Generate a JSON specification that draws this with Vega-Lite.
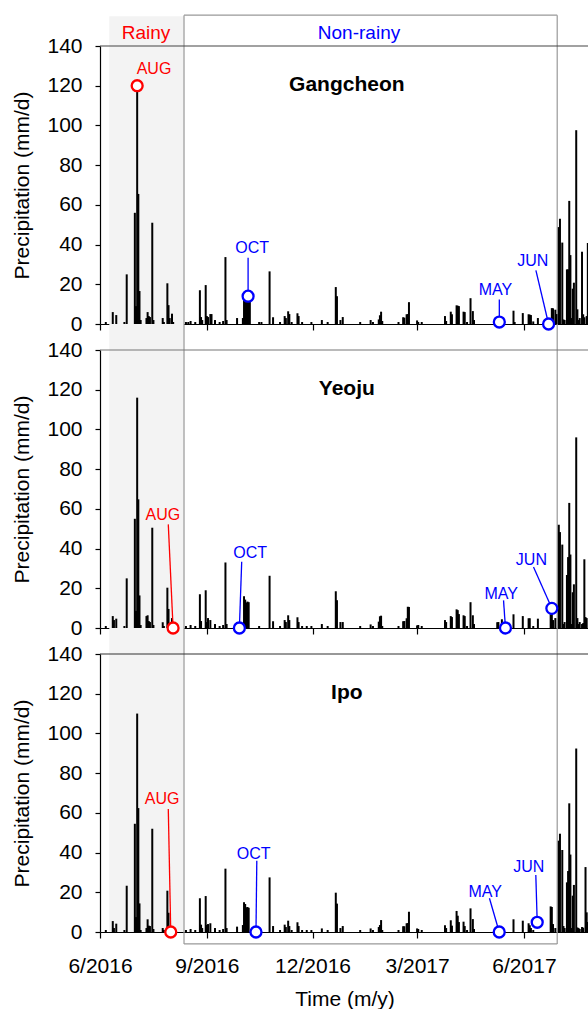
{
 "$schema": "https://vega.github.io/schema/vega-lite/v6.json",
 "padding": {"left": 11, "top": 14, "right": 0, "bottom": 0},
 "bounds": "flush",
 "spacing": 26,
 "config": {
  "font": "Liberation Sans",
  "view": {"stroke": null},
  "scale": {"continuousPadding": 0},
  "axis": {"labelFont": "Liberation Sans", "titleFont": "Liberation Sans", "labelFontSize": 21, "titleFontSize": 21, "titleFontWeight": "normal", "labelColor": "#000", "titleColor": "#000", "domainColor": "#000", "tickColor": "#000", "domainWidth": 1.2, "tickWidth": 1.2, "grid": false, "zindex": 1, "labelOverlap": false}
 },
 "datasets": {
  "periods": [
   {"period": "Rainy", "start": "2016-06-09T00:00:00Z", "end": "2016-08-12T08:00:00Z", "labelDate": "2016-07-10T14:00:00Z"},
   {"period": "Non-rainy", "start": "2016-08-12T08:00:00Z", "end": "2017-06-29T15:00:00Z", "labelDate": "2017-01-10T00:00:00Z"}
  ],
  "notes": [
   {"site": "Gangcheon", "label": "AUG", "period": "Rainy", "ldate": "2016-07-17T12:00:00Z", "ly": 125.7, "sdate": "2016-07-03T00:00:00Z", "sy": 120, "cdate": "2016-07-03T00:00:00Z", "cy": 120},
   {"site": "Gangcheon", "label": "OCT", "period": "Non-rainy", "ldate": "2016-10-10T02:00:00Z", "ly": 35.6, "sdate": "2016-10-06T12:00:00Z", "sy": 33.4, "cdate": "2016-10-06T12:00:00Z", "cy": 14},
   {"site": "Gangcheon", "label": "MAY", "period": "Non-rainy", "ldate": "2017-05-07T10:00:00Z", "ly": 14.6, "sdate": "2017-05-10T19:00:00Z", "sy": 12.4, "cdate": "2017-05-10T19:00:00Z", "cy": 1},
   {"site": "Gangcheon", "label": "JUN", "period": "Non-rainy", "ldate": "2017-06-08T14:00:00Z", "ly": 29.2, "sdate": "2017-06-11T07:00:00Z", "sy": 27, "cdate": "2017-06-22T05:00:00Z", "cy": 0},
   {"site": "Yeoju", "label": "AUG", "period": "Rainy", "ldate": "2016-07-25T02:00:00Z", "ly": 54.2, "sdate": "2016-07-29T19:00:00Z", "sy": 52.2, "cdate": "2016-08-02T22:00:00Z", "cy": 0},
   {"site": "Yeoju", "label": "OCT", "period": "Non-rainy", "ldate": "2016-10-08T07:00:00Z", "ly": 35.4, "sdate": "2016-10-01T00:00:00Z", "sy": 33.4, "cdate": "2016-09-29T00:00:00Z", "cy": 0},
   {"site": "Yeoju", "label": "MAY", "period": "Non-rainy", "ldate": "2017-05-12T10:00:00Z", "ly": 14.4, "sdate": "2017-05-14T10:00:00Z", "sy": 13.9, "cdate": "2017-05-16T02:00:00Z", "cy": 0},
   {"site": "Yeoju", "label": "JUN", "period": "Non-rainy", "ldate": "2017-06-07T10:00:00Z", "ly": 31.6, "sdate": "2017-06-09T05:00:00Z", "sy": 30.7, "cdate": "2017-06-25T00:00:00Z", "cy": 9.9},
   {"site": "Ipo", "label": "AUG", "period": "Rainy", "ldate": "2016-07-24T12:00:00Z", "ly": 64.4, "sdate": "2016-07-29T19:00:00Z", "sy": 61.9, "cdate": "2016-07-31T22:00:00Z", "cy": 0},
   {"site": "Ipo", "label": "OCT", "period": "Non-rainy", "ldate": "2016-10-11T07:00:00Z", "ly": 36.8, "sdate": "2016-10-14T00:00:00Z", "sy": 35.9, "cdate": "2016-10-13T07:00:00Z", "cy": 0},
   {"site": "Ipo", "label": "MAY", "period": "Non-rainy", "ldate": "2017-04-28T14:00:00Z", "ly": 17.5, "sdate": "2017-05-02T07:00:00Z", "sy": 17, "cdate": "2017-05-10T17:00:00Z", "cy": 0},
   {"site": "Ipo", "label": "JUN", "period": "Non-rainy", "ldate": "2017-06-05T02:00:00Z", "ly": 30, "sdate": "2017-06-11T05:00:00Z", "sy": 28.7, "cdate": "2017-06-12T10:00:00Z", "cy": 4.9}
  ],
  "rain": [
   {"date": "2016-06-06", "Gangcheon": 1, "Yeoju": 1, "Ipo": 1},
   {"date": "2016-06-12", "Gangcheon": 6, "Yeoju": 6, "Ipo": 5.5},
   {"date": "2016-06-13", "Gangcheon": 0, "Yeoju": 4, "Ipo": 2},
   {"date": "2016-06-15", "Gangcheon": 4.5, "Yeoju": 4.7, "Ipo": 4.2},
   {"date": "2016-06-22", "Gangcheon": 1, "Yeoju": 1, "Ipo": 1},
   {"date": "2016-06-24", "Gangcheon": 25, "Yeoju": 25, "Ipo": 23.3},
   {"date": "2016-07-01", "Gangcheon": 56, "Yeoju": 55, "Ipo": 54.5},
   {"date": "2016-07-02", "Gangcheon": 9, "Yeoju": 8.6, "Ipo": 7.5},
   {"date": "2016-07-03", "Gangcheon": 119, "Yeoju": 116, "Ipo": 110},
   {"date": "2016-07-04", "Gangcheon": 65.5, "Yeoju": 64.8, "Ipo": 62.4},
   {"date": "2016-07-05", "Gangcheon": 16.6, "Yeoju": 16.4, "Ipo": 14.4},
   {"date": "2016-07-06", "Gangcheon": 2, "Yeoju": 1.5, "Ipo": 1},
   {"date": "2016-07-11", "Gangcheon": 3, "Yeoju": 6, "Ipo": 2},
   {"date": "2016-07-12", "Gangcheon": 6, "Yeoju": 6.4, "Ipo": 6.4},
   {"date": "2016-07-13", "Gangcheon": 4, "Yeoju": 3.5, "Ipo": 3.2},
   {"date": "2016-07-14", "Gangcheon": 3.5, "Yeoju": 3, "Ipo": 3},
   {"date": "2016-07-16", "Gangcheon": 51, "Yeoju": 50.5, "Ipo": 52},
   {"date": "2016-07-17", "Gangcheon": 2, "Yeoju": 1.5, "Ipo": 1.5},
   {"date": "2016-07-25", "Gangcheon": 3, "Yeoju": 2.9, "Ipo": 2},
   {"date": "2016-07-26", "Gangcheon": 1, "Yeoju": 1, "Ipo": 1},
   {"date": "2016-07-29", "Gangcheon": 20.5, "Yeoju": 20.3, "Ipo": 20.8},
   {"date": "2016-07-30", "Gangcheon": 9.5, "Yeoju": 9.6, "Ipo": 9.7},
   {"date": "2016-07-31", "Gangcheon": 3, "Yeoju": 2, "Ipo": 2},
   {"date": "2016-08-02", "Gangcheon": 5.2, "Yeoju": 5, "Ipo": 0},
   {"date": "2016-08-03", "Gangcheon": 1, "Yeoju": 0, "Ipo": 0},
   {"date": "2016-08-14", "Gangcheon": 1, "Yeoju": 1, "Ipo": 1},
   {"date": "2016-08-16", "Gangcheon": 1, "Yeoju": 0, "Ipo": 0},
   {"date": "2016-08-18", "Gangcheon": 1.5, "Yeoju": 1.5, "Ipo": 1.5},
   {"date": "2016-08-22", "Gangcheon": 1, "Yeoju": 1, "Ipo": 1},
   {"date": "2016-08-26", "Gangcheon": 17, "Yeoju": 17, "Ipo": 17},
   {"date": "2016-08-27", "Gangcheon": 3.5, "Yeoju": 3.5, "Ipo": 3.7},
   {"date": "2016-08-28", "Gangcheon": 2, "Yeoju": 0, "Ipo": 2},
   {"date": "2016-08-31", "Gangcheon": 19.6, "Yeoju": 19, "Ipo": 18.1},
   {"date": "2016-09-01", "Gangcheon": 4, "Yeoju": 3, "Ipo": 3.5},
   {"date": "2016-09-02", "Gangcheon": 3.5, "Yeoju": 5, "Ipo": 4},
   {"date": "2016-09-04", "Gangcheon": 5, "Yeoju": 4, "Ipo": 4.4},
   {"date": "2016-09-05", "Gangcheon": 5, "Yeoju": 0, "Ipo": 0},
   {"date": "2016-09-08", "Gangcheon": 2, "Yeoju": 2, "Ipo": 2},
   {"date": "2016-09-12", "Gangcheon": 1, "Yeoju": 1, "Ipo": 1},
   {"date": "2016-09-15", "Gangcheon": 1.5, "Yeoju": 1.5, "Ipo": 1.5},
   {"date": "2016-09-17", "Gangcheon": 33.7, "Yeoju": 33, "Ipo": 31.9},
   {"date": "2016-09-18", "Gangcheon": 2, "Yeoju": 2, "Ipo": 2},
   {"date": "2016-09-27", "Gangcheon": 3, "Yeoju": 3, "Ipo": 2.7},
   {"date": "2016-10-02", "Gangcheon": 3, "Yeoju": 0, "Ipo": 3.5},
   {"date": "2016-10-03", "Gangcheon": 12, "Yeoju": 16, "Ipo": 15},
   {"date": "2016-10-04", "Gangcheon": 13, "Yeoju": 14.3, "Ipo": 14.1},
   {"date": "2016-10-05", "Gangcheon": 13, "Yeoju": 12.8, "Ipo": 12.4},
   {"date": "2016-10-06", "Gangcheon": 13, "Yeoju": 13.3, "Ipo": 12.6},
   {"date": "2016-10-07", "Gangcheon": 13, "Yeoju": 13, "Ipo": 12.2},
   {"date": "2016-10-08", "Gangcheon": 12, "Yeoju": 0, "Ipo": 0},
   {"date": "2016-10-16", "Gangcheon": 1, "Yeoju": 1, "Ipo": 1},
   {"date": "2016-10-18", "Gangcheon": 1, "Yeoju": 0, "Ipo": 0},
   {"date": "2016-10-25", "Gangcheon": 26.5, "Yeoju": 26.3, "Ipo": 27.5},
   {"date": "2016-10-28", "Gangcheon": 3.4, "Yeoju": 3.4, "Ipo": 3},
   {"date": "2016-11-03", "Gangcheon": 1, "Yeoju": 1, "Ipo": 1},
   {"date": "2016-11-07", "Gangcheon": 4, "Yeoju": 4, "Ipo": 3.7},
   {"date": "2016-11-08", "Gangcheon": 3, "Yeoju": 3, "Ipo": 2.5},
   {"date": "2016-11-10", "Gangcheon": 6.4, "Yeoju": 6.4, "Ipo": 5.7},
   {"date": "2016-11-11", "Gangcheon": 5, "Yeoju": 4, "Ipo": 3},
   {"date": "2016-11-13", "Gangcheon": 1, "Yeoju": 0, "Ipo": 1},
   {"date": "2016-11-18", "Gangcheon": 5.4, "Yeoju": 5.4, "Ipo": 4.9},
   {"date": "2016-11-19", "Gangcheon": 4, "Yeoju": 3, "Ipo": 3},
   {"date": "2016-11-22", "Gangcheon": 1, "Yeoju": 1, "Ipo": 1},
   {"date": "2016-11-26", "Gangcheon": 0, "Yeoju": 1, "Ipo": 1},
   {"date": "2016-11-30", "Gangcheon": 1, "Yeoju": 1, "Ipo": 1},
   {"date": "2016-12-09", "Gangcheon": 2, "Yeoju": 2, "Ipo": 1.8},
   {"date": "2016-12-14", "Gangcheon": 1, "Yeoju": 1, "Ipo": 1},
   {"date": "2016-12-21", "Gangcheon": 18.6, "Yeoju": 18.5, "Ipo": 19.8},
   {"date": "2016-12-22", "Gangcheon": 14, "Yeoju": 14, "Ipo": 14.3},
   {"date": "2016-12-25", "Gangcheon": 2, "Yeoju": 3, "Ipo": 2},
   {"date": "2016-12-27", "Gangcheon": 3.5, "Yeoju": 3, "Ipo": 3},
   {"date": "2017-01-11", "Gangcheon": 1, "Yeoju": 1, "Ipo": 1},
   {"date": "2017-01-20", "Gangcheon": 2, "Yeoju": 1.8, "Ipo": 1.8},
   {"date": "2017-01-22", "Gangcheon": 1, "Yeoju": 1, "Ipo": 1},
   {"date": "2017-01-27", "Gangcheon": 2.3, "Yeoju": 3.2, "Ipo": 2.5},
   {"date": "2017-01-28", "Gangcheon": 4.4, "Yeoju": 5.9, "Ipo": 3.5},
   {"date": "2017-01-29", "Gangcheon": 6.2, "Yeoju": 6.2, "Ipo": 6},
   {"date": "2017-01-30", "Gangcheon": 1.5, "Yeoju": 1, "Ipo": 1},
   {"date": "2017-02-13", "Gangcheon": 1, "Yeoju": 1, "Ipo": 1},
   {"date": "2017-02-17", "Gangcheon": 3.4, "Yeoju": 3.4, "Ipo": 2.9},
   {"date": "2017-02-18", "Gangcheon": 3.2, "Yeoju": 3.5, "Ipo": 2.9},
   {"date": "2017-02-20", "Gangcheon": 4.9, "Yeoju": 4.9, "Ipo": 4.4},
   {"date": "2017-02-21", "Gangcheon": 5, "Yeoju": 10.7, "Ipo": 4.5},
   {"date": "2017-02-22", "Gangcheon": 11, "Yeoju": 10.6, "Ipo": 10.2},
   {"date": "2017-03-01", "Gangcheon": 1.8, "Yeoju": 1.3, "Ipo": 1.8},
   {"date": "2017-03-02", "Gangcheon": 1, "Yeoju": 1.5, "Ipo": 1.5},
   {"date": "2017-03-05", "Gangcheon": 1, "Yeoju": 1, "Ipo": 1},
   {"date": "2017-03-25", "Gangcheon": 4, "Yeoju": 4, "Ipo": 3.4},
   {"date": "2017-03-26", "Gangcheon": 1.5, "Yeoju": 3, "Ipo": 2},
   {"date": "2017-03-30", "Gangcheon": 6.2, "Yeoju": 6, "Ipo": 5.9},
   {"date": "2017-03-31", "Gangcheon": 4.9, "Yeoju": 5.5, "Ipo": 3.2},
   {"date": "2017-04-04", "Gangcheon": 9.4, "Yeoju": 9.4, "Ipo": 10.6},
   {"date": "2017-04-05", "Gangcheon": 9.2, "Yeoju": 9, "Ipo": 8.2},
   {"date": "2017-04-06", "Gangcheon": 9, "Yeoju": 7, "Ipo": 5},
   {"date": "2017-04-10", "Gangcheon": 6.2, "Yeoju": 6.4, "Ipo": 5.2},
   {"date": "2017-04-11", "Gangcheon": 6, "Yeoju": 6, "Ipo": 3},
   {"date": "2017-04-13", "Gangcheon": 1, "Yeoju": 1, "Ipo": 1},
   {"date": "2017-04-16", "Gangcheon": 13, "Yeoju": 13, "Ipo": 11.9},
   {"date": "2017-04-18", "Gangcheon": 6.5, "Yeoju": 6.4, "Ipo": 6.5},
   {"date": "2017-04-19", "Gangcheon": 2, "Yeoju": 2, "Ipo": 1.5},
   {"date": "2017-05-09", "Gangcheon": 0, "Yeoju": 2.9, "Ipo": 0},
   {"date": "2017-05-10", "Gangcheon": 0, "Yeoju": 3, "Ipo": 0},
   {"date": "2017-05-13", "Gangcheon": 0, "Yeoju": 4.4, "Ipo": 1.5},
   {"date": "2017-05-23", "Gangcheon": 6.7, "Yeoju": 6.9, "Ipo": 6.4},
   {"date": "2017-05-24", "Gangcheon": 1, "Yeoju": 0, "Ipo": 0},
   {"date": "2017-05-31", "Gangcheon": 5.5, "Yeoju": 6, "Ipo": 5.7},
   {"date": "2017-06-05", "Gangcheon": 4.9, "Yeoju": 4.9, "Ipo": 4.4},
   {"date": "2017-06-06", "Gangcheon": 4.7, "Yeoju": 4.9, "Ipo": 3.4},
   {"date": "2017-06-07", "Gangcheon": 4.5, "Yeoju": 0, "Ipo": 2},
   {"date": "2017-06-09", "Gangcheon": 1.3, "Yeoju": 1, "Ipo": 1},
   {"date": "2017-06-13", "Gangcheon": 3, "Yeoju": 4.7, "Ipo": 0},
   {"date": "2017-06-24", "Gangcheon": 0, "Yeoju": 6.9, "Ipo": 12.9},
   {"date": "2017-06-25", "Gangcheon": 8, "Yeoju": 8.4, "Ipo": 12.6},
   {"date": "2017-06-26", "Gangcheon": 7.9, "Yeoju": 4, "Ipo": 4},
   {"date": "2017-06-28", "Gangcheon": 7.2, "Yeoju": 5, "Ipo": 2},
   {"date": "2017-06-29", "Gangcheon": 5, "Yeoju": 0, "Ipo": 0},
   {"date": "2017-07-01", "Gangcheon": 48.8, "Yeoju": 52, "Ipo": 46},
   {"date": "2017-07-02", "Gangcheon": 53, "Yeoju": 48.3, "Ipo": 49.5},
   {"date": "2017-07-04", "Gangcheon": 41, "Yeoju": 42, "Ipo": 41.3},
   {"date": "2017-07-05", "Gangcheon": 2.3, "Yeoju": 2, "Ipo": 3},
   {"date": "2017-07-06", "Gangcheon": 2, "Yeoju": 3, "Ipo": 2},
   {"date": "2017-07-08", "Gangcheon": 27.5, "Yeoju": 26.7, "Ipo": 25},
   {"date": "2017-07-09", "Gangcheon": 27.5, "Yeoju": 35.7, "Ipo": 30.7},
   {"date": "2017-07-10", "Gangcheon": 62, "Yeoju": 63, "Ipo": 64.8},
   {"date": "2017-07-11", "Gangcheon": 34.7, "Yeoju": 37, "Ipo": 39},
   {"date": "2017-07-12", "Gangcheon": 3, "Yeoju": 2, "Ipo": 2},
   {"date": "2017-07-13", "Gangcheon": 17.8, "Yeoju": 18, "Ipo": 18.3},
   {"date": "2017-07-14", "Gangcheon": 20.8, "Yeoju": 22, "Ipo": 23.7},
   {"date": "2017-07-16", "Gangcheon": 97.6, "Yeoju": 96, "Ipo": 92.4},
   {"date": "2017-07-17", "Gangcheon": 7.4, "Yeoju": 5, "Ipo": 2.3},
   {"date": "2017-07-18", "Gangcheon": 2, "Yeoju": 2, "Ipo": 2},
   {"date": "2017-07-19", "Gangcheon": 3, "Yeoju": 3, "Ipo": 1.5},
   {"date": "2017-07-21", "Gangcheon": 36.4, "Yeoju": 2, "Ipo": 2.5},
   {"date": "2017-07-22", "Gangcheon": 4.9, "Yeoju": 2.5, "Ipo": 2.2},
   {"date": "2017-07-23", "Gangcheon": 3.4, "Yeoju": 34.6, "Ipo": 0},
   {"date": "2017-07-24", "Gangcheon": 0, "Yeoju": 5.5, "Ipo": 32.7},
   {"date": "2017-07-25", "Gangcheon": 4, "Yeoju": 5, "Ipo": 9.9},
   {"date": "2017-07-26", "Gangcheon": 40.8, "Yeoju": 0, "Ipo": 5}
  ]
 },
 "vconcat": [
  {
   "width": 489, "height": 278,
   "layer": [
    {"data": {"name": "periods"}, "transform": [{"filter": "datum.period == 'Rainy'"}], "mark": {"type": "rect", "color": "#f3f3f3"},
     "encoding": {"x": {"field": "start", "type": "temporal", "scale": {"type": "utc", "domain": [1464739200000, 1501113600000], "padding": 0}}, "x2": {"field": "end"}, "y": {"datum": -13.1, "type": "quantitative", "scale": {"domain": [0, 140]}, "axis": {"values": [0, 20, 40, 60, 80, 100, 120, 140], "title": "Precipitation (mm/d)", "tickSize": 5, "labelPadding": 13, "titlePadding": 14, "labelOverlap": false}}, "y2": {"datum": 155}}},
    {"data": {"name": "periods"}, "transform": [{"filter": "datum.period == 'Non-rainy'"}], "mark": {"type": "rule", "color": "#999999", "strokeWidth": 1.2},
     "encoding": {"x": {"field": "start", "type": "temporal", "scale": {"type": "utc", "domain": [1464739200000, 1501113600000], "padding": 0}}, "y": {"datum": -13.1, "type": "quantitative", "scale": {"domain": [0, 140]}, "axis": {"values": [0, 20, 40, 60, 80, 100, 120, 140], "title": "Precipitation (mm/d)", "tickSize": 5, "labelPadding": 13, "titlePadding": 14, "labelOverlap": false}}, "y2": {"datum": 155.5}}},
    {"data": {"name": "periods"}, "transform": [{"filter": "datum.period == 'Non-rainy'"}], "mark": {"type": "rule", "color": "#999999", "strokeWidth": 1.2},
     "encoding": {"x": {"field": "end", "type": "temporal", "scale": {"type": "utc", "domain": [1464739200000, 1501113600000], "padding": 0}}, "y": {"datum": -13.1, "type": "quantitative", "scale": {"domain": [0, 140]}, "axis": {"values": [0, 20, 40, 60, 80, 100, 120, 140], "title": "Precipitation (mm/d)", "tickSize": 5, "labelPadding": 13, "titlePadding": 14, "labelOverlap": false}}, "y2": {"datum": 155.5}}},
    {"data": {"name": "periods"}, "transform": [{"filter": "datum.period == 'Non-rainy'"}], "mark": {"type": "rule", "color": "#999999", "strokeWidth": 1.2},
     "encoding": {"x": {"field": "start", "type": "temporal", "scale": {"type": "utc", "domain": [1464739200000, 1501113600000], "padding": 0}}, "x2": {"field": "end"}, "y": {"datum": 155.5, "type": "quantitative", "scale": {"domain": [0, 140]}, "axis": {"values": [0, 20, 40, 60, 80, 100, 120, 140], "title": "Precipitation (mm/d)", "tickSize": 5, "labelPadding": 13, "titlePadding": 14, "labelOverlap": false}}}},
    {"data": {"values": [{}]}, "mark": {"type": "rule", "color": "#444444", "strokeWidth": 1.2},
     "encoding": {"y": {"datum": 140, "type": "quantitative", "scale": {"domain": [0, 140]}, "axis": {"values": [0, 20, 40, 60, 80, 100, 120, 140], "title": "Precipitation (mm/d)", "tickSize": 5, "labelPadding": 13, "titlePadding": 14, "labelOverlap": false}}}},
    {"data": {"name": "rain"}, "transform": [{"fold": ["Gangcheon", "Yeoju", "Ipo"], "as": ["site", "p"]}, {"filter": "datum.site == 'Gangcheon' && datum.p > 0"}],
     "mark": {"type": "bar", "color": "#000000", "size": 2},
     "encoding": {
      "x": {"field": "date", "type": "temporal", "scale": {"type": "utc", "domain": [1464739200000, 1501113600000], "padding": 0}, "axis": {"values": [1464739200000, 1472688000000, 1480550400000, 1488326400000, 1496275200000], "labels": false, "title": null, "tickSize": 6}},
      "y": {"field": "p", "type": "quantitative", "scale": {"domain": [0, 140]}, "axis": {"values": [0, 20, 40, 60, 80, 100, 120, 140], "title": "Precipitation (mm/d)", "tickSize": 5, "labelPadding": 13, "titlePadding": 14, "labelOverlap": false}}
     }},
    {"data": {"values": [{}]}, "mark": {"type": "text", "text": "Gangcheon", "fontSize": 21, "fontWeight": "bold", "align": "center", "baseline": "alphabetic", "color": "#000000"},
     "encoding": {"x": {"datum": {"year": 2016, "month": 12, "date": 30, "hours": 12, "utc": true}, "type": "temporal", "scale": {"type": "utc", "domain": [1464739200000, 1501113600000], "padding": 0}}, "y": {"datum": 117.3, "type": "quantitative", "scale": {"domain": [0, 140]}, "axis": {"values": [0, 20, 40, 60, 80, 100, 120, 140], "title": "Precipitation (mm/d)", "tickSize": 5, "labelPadding": 13, "titlePadding": 14, "labelOverlap": false}}}},
    {"data": {"name": "notes"}, "transform": [{"filter": "datum.site == 'Gangcheon'"}], "mark": {"type": "rule", "strokeWidth": 1.3},
     "encoding": {"x": {"field": "sdate", "type": "temporal", "scale": {"type": "utc", "domain": [1464739200000, 1501113600000], "padding": 0}}, "y": {"field": "sy", "type": "quantitative", "scale": {"domain": [0, 140]}, "axis": {"values": [0, 20, 40, 60, 80, 100, 120, 140], "title": "Precipitation (mm/d)", "tickSize": 5, "labelPadding": 13, "titlePadding": 14, "labelOverlap": false}}, "x2": {"field": "cdate"}, "y2": {"field": "cy"},
      "color": {"field": "period", "type": "nominal", "scale": {"domain": ["Rainy", "Non-rainy"], "range": ["#ff0000", "#0000ff"]}, "legend": null}}},
    {"data": {"name": "notes"}, "transform": [{"filter": "datum.site == 'Gangcheon'"}], "mark": {"type": "point", "shape": "circle", "filled": true, "fill": "#ffffff", "opacity": 1, "strokeWidth": 2.3, "size": 120},
     "encoding": {"x": {"field": "cdate", "type": "temporal", "scale": {"type": "utc", "domain": [1464739200000, 1501113600000], "padding": 0}}, "y": {"field": "cy", "type": "quantitative", "scale": {"domain": [0, 140]}, "axis": {"values": [0, 20, 40, 60, 80, 100, 120, 140], "title": "Precipitation (mm/d)", "tickSize": 5, "labelPadding": 13, "titlePadding": 14, "labelOverlap": false}},
      "stroke": {"field": "period", "type": "nominal", "scale": {"domain": ["Rainy", "Non-rainy"], "range": ["#ff0000", "#0000ff"]}, "legend": null}}},
    {"data": {"name": "notes"}, "transform": [{"filter": "datum.site == 'Gangcheon'"}], "mark": {"type": "text", "fontSize": 16, "align": "center", "baseline": "alphabetic"},
     "encoding": {"x": {"field": "ldate", "type": "temporal", "scale": {"type": "utc", "domain": [1464739200000, 1501113600000], "padding": 0}}, "y": {"field": "ly", "type": "quantitative", "scale": {"domain": [0, 140]}, "axis": {"values": [0, 20, 40, 60, 80, 100, 120, 140], "title": "Precipitation (mm/d)", "tickSize": 5, "labelPadding": 13, "titlePadding": 14, "labelOverlap": false}}, "text": {"field": "label"},
      "color": {"field": "period", "type": "nominal", "scale": {"domain": ["Rainy", "Non-rainy"], "range": ["#ff0000", "#0000ff"]}, "legend": null}}},
    {"data": {"name": "periods"}, "mark": {"type": "text", "fontSize": 19, "align": "center", "baseline": "alphabetic"},
     "encoding": {"x": {"field": "labelDate", "type": "temporal", "scale": {"type": "utc", "domain": [1464739200000, 1501113600000], "padding": 0}}, "y": {"datum": 143.7, "type": "quantitative", "scale": {"domain": [0, 140]}, "axis": {"values": [0, 20, 40, 60, 80, 100, 120, 140], "title": "Precipitation (mm/d)", "tickSize": 5, "labelPadding": 13, "titlePadding": 14, "labelOverlap": false}}, "text": {"field": "period"},
      "color": {"field": "period", "type": "nominal", "scale": {"domain": ["Rainy", "Non-rainy"], "range": ["#ff0000", "#0000ff"]}, "legend": null}}}
   ]
  },
  {
   "width": 489, "height": 278,
   "layer": [
    {"data": {"name": "periods"}, "transform": [{"filter": "datum.period == 'Rainy'"}], "mark": {"type": "rect", "color": "#f3f3f3"},
     "encoding": {"x": {"field": "start", "type": "temporal", "scale": {"type": "utc", "domain": [1464739200000, 1501113600000], "padding": 0}}, "x2": {"field": "end"}, "y": {"datum": -13.1, "type": "quantitative", "scale": {"domain": [0, 140]}, "axis": {"values": [0, 20, 40, 60, 80, 100, 120, 140], "title": "Precipitation (mm/d)", "tickSize": 5, "labelPadding": 13, "titlePadding": 14, "labelOverlap": false}}, "y2": {"datum": 140}}},
    {"data": {"name": "periods"}, "transform": [{"filter": "datum.period == 'Non-rainy'"}], "mark": {"type": "rule", "color": "#999999", "strokeWidth": 1.2},
     "encoding": {"x": {"field": "start", "type": "temporal", "scale": {"type": "utc", "domain": [1464739200000, 1501113600000], "padding": 0}}, "y": {"datum": -13.1, "type": "quantitative", "scale": {"domain": [0, 140]}, "axis": {"values": [0, 20, 40, 60, 80, 100, 120, 140], "title": "Precipitation (mm/d)", "tickSize": 5, "labelPadding": 13, "titlePadding": 14, "labelOverlap": false}}, "y2": {"datum": 140}}},
    {"data": {"name": "periods"}, "transform": [{"filter": "datum.period == 'Non-rainy'"}], "mark": {"type": "rule", "color": "#999999", "strokeWidth": 1.2},
     "encoding": {"x": {"field": "end", "type": "temporal", "scale": {"type": "utc", "domain": [1464739200000, 1501113600000], "padding": 0}}, "y": {"datum": -13.1, "type": "quantitative", "scale": {"domain": [0, 140]}, "axis": {"values": [0, 20, 40, 60, 80, 100, 120, 140], "title": "Precipitation (mm/d)", "tickSize": 5, "labelPadding": 13, "titlePadding": 14, "labelOverlap": false}}, "y2": {"datum": 140}}},
    {"data": {"values": [{}]}, "mark": {"type": "rule", "color": "#777777", "strokeWidth": 1.2},
     "encoding": {"y": {"datum": 140, "type": "quantitative", "scale": {"domain": [0, 140]}, "axis": {"values": [0, 20, 40, 60, 80, 100, 120, 140], "title": "Precipitation (mm/d)", "tickSize": 5, "labelPadding": 13, "titlePadding": 14, "labelOverlap": false}}}},
    {"data": {"name": "rain"}, "transform": [{"fold": ["Gangcheon", "Yeoju", "Ipo"], "as": ["site", "p"]}, {"filter": "datum.site == 'Yeoju' && datum.p > 0"}],
     "mark": {"type": "bar", "color": "#000000", "size": 2},
     "encoding": {
      "x": {"field": "date", "type": "temporal", "scale": {"type": "utc", "domain": [1464739200000, 1501113600000], "padding": 0}, "axis": {"values": [1464739200000, 1472688000000, 1480550400000, 1488326400000, 1496275200000], "labels": false, "title": null, "tickSize": 6}},
      "y": {"field": "p", "type": "quantitative", "scale": {"domain": [0, 140]}, "axis": {"values": [0, 20, 40, 60, 80, 100, 120, 140], "title": "Precipitation (mm/d)", "tickSize": 5, "labelPadding": 13, "titlePadding": 14, "labelOverlap": false}}
     }},
    {"data": {"values": [{}]}, "mark": {"type": "text", "text": "Yeoju", "fontSize": 21, "fontWeight": "bold", "align": "center", "baseline": "alphabetic", "color": "#000000"},
     "encoding": {"x": {"datum": {"year": 2016, "month": 12, "date": 30, "hours": 12, "utc": true}, "type": "temporal", "scale": {"type": "utc", "domain": [1464739200000, 1501113600000], "padding": 0}}, "y": {"datum": 117.3, "type": "quantitative", "scale": {"domain": [0, 140]}, "axis": {"values": [0, 20, 40, 60, 80, 100, 120, 140], "title": "Precipitation (mm/d)", "tickSize": 5, "labelPadding": 13, "titlePadding": 14, "labelOverlap": false}}}},
    {"data": {"name": "notes"}, "transform": [{"filter": "datum.site == 'Yeoju'"}], "mark": {"type": "rule", "strokeWidth": 1.3},
     "encoding": {"x": {"field": "sdate", "type": "temporal", "scale": {"type": "utc", "domain": [1464739200000, 1501113600000], "padding": 0}}, "y": {"field": "sy", "type": "quantitative", "scale": {"domain": [0, 140]}, "axis": {"values": [0, 20, 40, 60, 80, 100, 120, 140], "title": "Precipitation (mm/d)", "tickSize": 5, "labelPadding": 13, "titlePadding": 14, "labelOverlap": false}}, "x2": {"field": "cdate"}, "y2": {"field": "cy"},
      "color": {"field": "period", "type": "nominal", "scale": {"domain": ["Rainy", "Non-rainy"], "range": ["#ff0000", "#0000ff"]}, "legend": null}}},
    {"data": {"name": "notes"}, "transform": [{"filter": "datum.site == 'Yeoju'"}], "mark": {"type": "point", "shape": "circle", "filled": true, "fill": "#ffffff", "opacity": 1, "strokeWidth": 2.3, "size": 120},
     "encoding": {"x": {"field": "cdate", "type": "temporal", "scale": {"type": "utc", "domain": [1464739200000, 1501113600000], "padding": 0}}, "y": {"field": "cy", "type": "quantitative", "scale": {"domain": [0, 140]}, "axis": {"values": [0, 20, 40, 60, 80, 100, 120, 140], "title": "Precipitation (mm/d)", "tickSize": 5, "labelPadding": 13, "titlePadding": 14, "labelOverlap": false}},
      "stroke": {"field": "period", "type": "nominal", "scale": {"domain": ["Rainy", "Non-rainy"], "range": ["#ff0000", "#0000ff"]}, "legend": null}}},
    {"data": {"name": "notes"}, "transform": [{"filter": "datum.site == 'Yeoju'"}], "mark": {"type": "text", "fontSize": 16, "align": "center", "baseline": "alphabetic"},
     "encoding": {"x": {"field": "ldate", "type": "temporal", "scale": {"type": "utc", "domain": [1464739200000, 1501113600000], "padding": 0}}, "y": {"field": "ly", "type": "quantitative", "scale": {"domain": [0, 140]}, "axis": {"values": [0, 20, 40, 60, 80, 100, 120, 140], "title": "Precipitation (mm/d)", "tickSize": 5, "labelPadding": 13, "titlePadding": 14, "labelOverlap": false}}, "text": {"field": "label"},
      "color": {"field": "period", "type": "nominal", "scale": {"domain": ["Rainy", "Non-rainy"], "range": ["#ff0000", "#0000ff"]}, "legend": null}}}
   ]
  },
  {
   "width": 489, "height": 278,
   "layer": [
    {"data": {"name": "periods"}, "transform": [{"filter": "datum.period == 'Rainy'"}], "mark": {"type": "rect", "color": "#f3f3f3"},
     "encoding": {"x": {"field": "start", "type": "temporal", "scale": {"type": "utc", "domain": [1464739200000, 1501113600000], "padding": 0}}, "x2": {"field": "end"}, "y": {"datum": 0, "type": "quantitative", "scale": {"domain": [0, 140]}, "axis": {"values": [0, 20, 40, 60, 80, 100, 120, 140], "title": "Precipitation (mm/d)", "tickSize": 5, "labelPadding": 13, "titlePadding": 14, "labelOverlap": false}}, "y2": {"datum": 140}}},
    {"data": {"name": "periods"}, "transform": [{"filter": "datum.period == 'Non-rainy'"}], "mark": {"type": "rule", "color": "#999999", "strokeWidth": 1.2},
     "encoding": {"x": {"field": "start", "type": "temporal", "scale": {"type": "utc", "domain": [1464739200000, 1501113600000], "padding": 0}}, "y": {"datum": -6, "type": "quantitative", "scale": {"domain": [0, 140]}, "axis": {"values": [0, 20, 40, 60, 80, 100, 120, 140], "title": "Precipitation (mm/d)", "tickSize": 5, "labelPadding": 13, "titlePadding": 14, "labelOverlap": false}}, "y2": {"datum": 140}}},
    {"data": {"name": "periods"}, "transform": [{"filter": "datum.period == 'Non-rainy'"}], "mark": {"type": "rule", "color": "#999999", "strokeWidth": 1.2},
     "encoding": {"x": {"field": "end", "type": "temporal", "scale": {"type": "utc", "domain": [1464739200000, 1501113600000], "padding": 0}}, "y": {"datum": -6, "type": "quantitative", "scale": {"domain": [0, 140]}, "axis": {"values": [0, 20, 40, 60, 80, 100, 120, 140], "title": "Precipitation (mm/d)", "tickSize": 5, "labelPadding": 13, "titlePadding": 14, "labelOverlap": false}}, "y2": {"datum": 140}}},
    {"data": {"name": "periods"}, "transform": [{"filter": "datum.period == 'Non-rainy'"}], "mark": {"type": "rule", "color": "#999999", "strokeWidth": 1.2},
     "encoding": {"x": {"field": "start", "type": "temporal", "scale": {"type": "utc", "domain": [1464739200000, 1501113600000], "padding": 0}}, "x2": {"field": "end"}, "y": {"datum": -6, "type": "quantitative", "scale": {"domain": [0, 140]}, "axis": {"values": [0, 20, 40, 60, 80, 100, 120, 140], "title": "Precipitation (mm/d)", "tickSize": 5, "labelPadding": 13, "titlePadding": 14, "labelOverlap": false}}}},
    {"data": {"values": [{}]}, "mark": {"type": "rule", "color": "#333333", "strokeWidth": 1.2},
     "encoding": {"y": {"datum": 140, "type": "quantitative", "scale": {"domain": [0, 140]}, "axis": {"values": [0, 20, 40, 60, 80, 100, 120, 140], "title": "Precipitation (mm/d)", "tickSize": 5, "labelPadding": 13, "titlePadding": 14, "labelOverlap": false}}}},
    {"data": {"name": "rain"}, "transform": [{"fold": ["Gangcheon", "Yeoju", "Ipo"], "as": ["site", "p"]}, {"filter": "datum.site == 'Ipo' && datum.p > 0"}],
     "mark": {"type": "bar", "color": "#000000", "size": 2},
     "encoding": {
      "x": {"field": "date", "type": "temporal", "scale": {"type": "utc", "domain": [1464739200000, 1501113600000], "padding": 0}, "axis": {"values": [1464739200000, 1472688000000, 1480550400000, 1488326400000, 1496275200000], "format": "%-m/%Y", "title": "Time (m/y)", "tickSize": 6, "labelPadding": 17, "labelDx": -7, "labelFlush": false, "labelOverlap": false, "titlePadding": 12}},
      "y": {"field": "p", "type": "quantitative", "scale": {"domain": [0, 140]}, "axis": {"values": [0, 20, 40, 60, 80, 100, 120, 140], "title": "Precipitation (mm/d)", "tickSize": 5, "labelPadding": 13, "titlePadding": 14, "labelOverlap": false}}
     }},
    {"data": {"values": [{}]}, "mark": {"type": "text", "text": "Ipo", "fontSize": 21, "fontWeight": "bold", "align": "center", "baseline": "alphabetic", "color": "#000000"},
     "encoding": {"x": {"datum": {"year": 2016, "month": 12, "date": 30, "hours": 12, "utc": true}, "type": "temporal", "scale": {"type": "utc", "domain": [1464739200000, 1501113600000], "padding": 0}}, "y": {"datum": 117.3, "type": "quantitative", "scale": {"domain": [0, 140]}, "axis": {"values": [0, 20, 40, 60, 80, 100, 120, 140], "title": "Precipitation (mm/d)", "tickSize": 5, "labelPadding": 13, "titlePadding": 14, "labelOverlap": false}}}},
    {"data": {"name": "notes"}, "transform": [{"filter": "datum.site == 'Ipo'"}], "mark": {"type": "rule", "strokeWidth": 1.3},
     "encoding": {"x": {"field": "sdate", "type": "temporal", "scale": {"type": "utc", "domain": [1464739200000, 1501113600000], "padding": 0}}, "y": {"field": "sy", "type": "quantitative", "scale": {"domain": [0, 140]}, "axis": {"values": [0, 20, 40, 60, 80, 100, 120, 140], "title": "Precipitation (mm/d)", "tickSize": 5, "labelPadding": 13, "titlePadding": 14, "labelOverlap": false}}, "x2": {"field": "cdate"}, "y2": {"field": "cy"},
      "color": {"field": "period", "type": "nominal", "scale": {"domain": ["Rainy", "Non-rainy"], "range": ["#ff0000", "#0000ff"]}, "legend": null}}},
    {"data": {"name": "notes"}, "transform": [{"filter": "datum.site == 'Ipo'"}], "mark": {"type": "point", "shape": "circle", "filled": true, "fill": "#ffffff", "opacity": 1, "strokeWidth": 2.3, "size": 120},
     "encoding": {"x": {"field": "cdate", "type": "temporal", "scale": {"type": "utc", "domain": [1464739200000, 1501113600000], "padding": 0}}, "y": {"field": "cy", "type": "quantitative", "scale": {"domain": [0, 140]}, "axis": {"values": [0, 20, 40, 60, 80, 100, 120, 140], "title": "Precipitation (mm/d)", "tickSize": 5, "labelPadding": 13, "titlePadding": 14, "labelOverlap": false}},
      "stroke": {"field": "period", "type": "nominal", "scale": {"domain": ["Rainy", "Non-rainy"], "range": ["#ff0000", "#0000ff"]}, "legend": null}}},
    {"data": {"name": "notes"}, "transform": [{"filter": "datum.site == 'Ipo'"}], "mark": {"type": "text", "fontSize": 16, "align": "center", "baseline": "alphabetic"},
     "encoding": {"x": {"field": "ldate", "type": "temporal", "scale": {"type": "utc", "domain": [1464739200000, 1501113600000], "padding": 0}}, "y": {"field": "ly", "type": "quantitative", "scale": {"domain": [0, 140]}, "axis": {"values": [0, 20, 40, 60, 80, 100, 120, 140], "title": "Precipitation (mm/d)", "tickSize": 5, "labelPadding": 13, "titlePadding": 14, "labelOverlap": false}}, "text": {"field": "label"},
      "color": {"field": "period", "type": "nominal", "scale": {"domain": ["Rainy", "Non-rainy"], "range": ["#ff0000", "#0000ff"]}, "legend": null}}}
   ]
  }
 ]
}
